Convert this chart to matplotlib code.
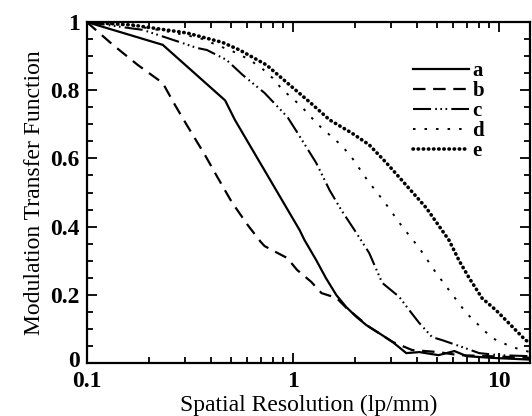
import matplotlib
matplotlib.use("Agg")
import matplotlib.pyplot as plt
import matplotlib.transforms as mtransforms
from matplotlib.ticker import FixedLocator, FixedFormatter, LogLocator, NullFormatter, MultipleLocator

plt.rcParams['font.family'] = ['Liberation Serif', 'DejaVu Serif']
plt.rcParams['lines.scale_dashes'] = False

# MTF curves (spatial resolution in lp/mm)
a_x = [0.1, 0.234, 0.47, 0.524, 1.08, 1.14, 1.30, 1.45, 1.63, 1.82, 2.04, 2.28, 2.62, 3.05, 3.56,
       4.12, 5.1, 6.1, 7.0, 9.3, 14.2]
a_y = [1.0, 0.933, 0.77, 0.713, 0.39, 0.361, 0.302, 0.249, 0.199, 0.164, 0.135, 0.111, 0.088, 0.062, 0.029,
       0.032, 0.023, 0.035, 0.02, 0.015, 0.01]

b_x = [0.1, 0.134, 0.177, 0.234, 0.268, 0.306, 0.375, 0.433, 0.506, 0.604, 0.70, 0.73, 0.83, 0.94,
       1.05, 1.23, 1.38, 1.63, 1.82, 2.35, 3.05, 3.8, 5.1, 6.4, 9.0, 14.2]
b_y = [1.0, 0.933, 0.874, 0.821, 0.757, 0.698, 0.61, 0.543, 0.472, 0.405, 0.355, 0.343, 0.325, 0.308,
       0.273, 0.238, 0.205, 0.191, 0.162, 0.106, 0.062, 0.038, 0.032, 0.023, 0.02, 0.015]

c_x = [0.1, 0.162, 0.187, 0.293, 0.342, 0.383, 0.477, 0.571, 0.73, 0.944, 1.05, 1.30, 1.51, 1.72,
       2.04, 2.35, 2.72, 3.29, 3.68, 4.12, 4.75, 5.32, 6.64, 8.04, 10.0, 14.2]
c_y = [1.0, 0.982, 0.977, 0.938, 0.924, 0.918, 0.889, 0.845, 0.792, 0.721, 0.677, 0.587, 0.507, 0.449,
       0.381, 0.323, 0.235, 0.194, 0.155, 0.117, 0.076, 0.067, 0.047, 0.029, 0.023, 0.02]

d_x = [0.1, 0.162, 0.253, 0.354, 0.535, 0.618, 0.706, 0.798, 0.893, 1.02, 1.17, 1.30, 1.51, 1.72,
       1.93, 2.30, 2.79, 3.41, 4.12, 4.97, 6.95, 9.29, 11.6, 14.2]
d_y = [1.0, 0.991, 0.971, 0.953, 0.909, 0.889, 0.865, 0.836, 0.801, 0.771, 0.736, 0.704, 0.669, 0.639,
       0.604, 0.537, 0.472, 0.399, 0.337, 0.264, 0.147, 0.073, 0.047, 0.032]

e_x = [0.1, 0.167, 0.306, 0.457, 0.552, 0.746, 0.968, 1.21, 1.51, 1.94, 2.35, 2.85, 3.48, 4.45,
       5.74, 6.43, 7.18, 8.31, 9.7, 11.2, 13.5, 14.2]
e_y = [1.0, 0.991, 0.968, 0.94, 0.918, 0.874, 0.815, 0.765, 0.713, 0.674, 0.64, 0.587, 0.528, 0.455,
       0.36, 0.30, 0.25, 0.19, 0.155, 0.117, 0.067, 0.06]

x_ticks = [0.1, 1, 10]
x_ticklabels = ['0.1', '1', '10']
y_ticks = [0, 0.2, 0.4, 0.6, 0.8, 1.0]
y_ticklabels = ['0', '0.2', '0.4', '0.6', '0.8', '1']

fig = plt.figure(figsize=(5.32, 4.16), dpi=100)
ax = fig.add_axes([0.163, 0.1274, 0.8333, 0.8197])

ax.plot(a_x, a_y, color='black', lw=1.6, linestyle='-', label='a')
ax.plot(b_x, b_y, color='black', lw=1.6, dashes=(9, 5.5), label='b')
ax.plot(c_x, c_y, color='black', lw=1.5, dashes=(13, 3, 1.2, 2.5, 1.2, 2.5, 1.2, 3), label='c')
ax.plot(d_x, d_y, color='black', lw=1.4, dashes=(1.8, 6.5), label='d')
ax.plot(e_x, e_y, color='black', lw=2.6, dashes=(0.3, 3.4), dash_capstyle='round', label='e')

ax.set_xscale('log')
ax.set_xlim(0.1, 14.2)
ax.set_ylim(0, 1)

ax.xaxis.set_major_locator(FixedLocator(x_ticks))
ax.xaxis.set_major_formatter(FixedFormatter(x_ticklabels))
ax.xaxis.set_minor_locator(LogLocator(base=10, subs=range(2, 10)))
ax.xaxis.set_minor_formatter(NullFormatter())
ax.yaxis.set_major_locator(FixedLocator(y_ticks))
ax.yaxis.set_major_formatter(FixedFormatter(y_ticklabels))
ax.yaxis.set_minor_locator(MultipleLocator(0.05))

ax.tick_params(which='both', direction='in', top=True, right=True, width=1.3)
ax.tick_params(which='major', length=7)
ax.tick_params(which='minor', length=4)
ax.tick_params(axis='x', which='major', pad=6)
ax.tick_params(axis='y', which='major', pad=5)
for lab in ax.get_xticklabels() + ax.get_yticklabels():
    lab.set_fontsize(17)
    lab.set_fontweight('bold')
# lift the "0" slightly so it clears the "0.1" below it
zero = ax.get_yticklabels()[0]
zero.set_transform(zero.get_transform() + mtransforms.ScaledTranslation(0, 3 / 72, fig.dpi_scale_trans))

for s in ax.spines.values():
    s.set_linewidth(1.6)

ax.set_xlabel('Spatial Resolution (lp/mm)', fontsize=17, labelpad=2)
ax.set_ylabel('Modulation Transfer Function', fontsize=17, labelpad=4)

leg = ax.legend(loc='upper left', bbox_to_anchor=(0.736, 0.885), frameon=False,
                fontsize=15, handlelength=2.7, handletextpad=0.15, labelspacing=0.0,
                borderpad=0, borderaxespad=0)
for t in leg.get_texts():
    t.set_fontweight('bold')

fig.savefig('out.png', dpi=100)
